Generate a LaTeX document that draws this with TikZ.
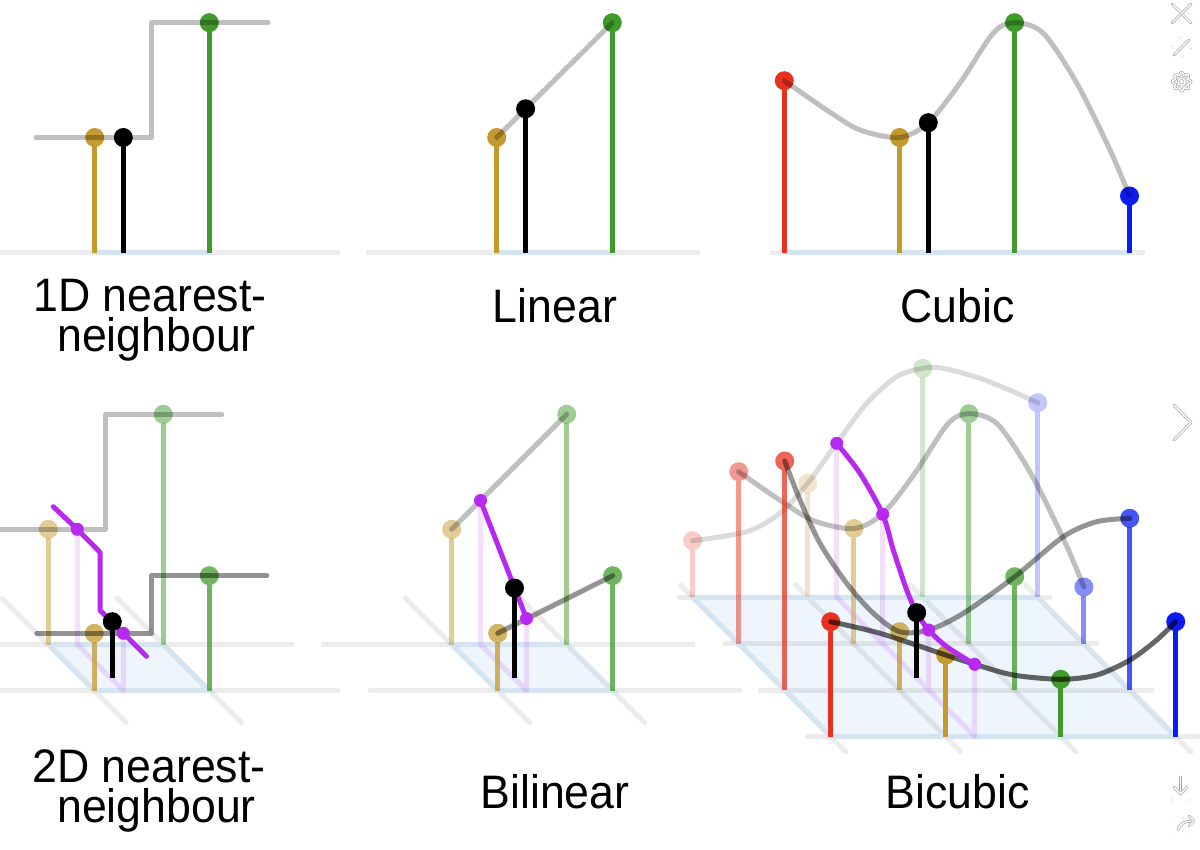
\documentclass[tikz,border=0pt]{standalone}
\usepackage{fontspec}
\newfontfamily\labelfont{Liberation Sans}[FakeStretch=0.95]
\usepackage{xcolor}
\usepackage{tikz}
\definecolor{ptred}{HTML}{E8321F}
\definecolor{ptgold}{HTML}{C4992E}
\definecolor{ptgreen}{HTML}{409A2C}
\definecolor{ptblue}{HTML}{0B1CF2}
\definecolor{ptpurple}{HTML}{B829F0}
\definecolor{gridblue}{HTML}{D4E4F0}
\definecolor{cellfill}{HTML}{EEF5FC}
\definecolor{icongray}{HTML}{A6A6A6}

\begin{document}
\begin{tikzpicture}[x=1pt,y=-1pt,
  gridline/.style={black,opacity=0.075,line width=5pt,line cap=round},
  groundline/.style={gridblue,line width=5pt},
  celledge/.style={gridblue,line width=5pt,line join=round},
  stemline/.style={line width=5pt},
  interp/.style={black,line width=5pt,line cap=round,line join=round},
  paneltitle/.style={font=\labelfont\fontsize{47pt}{40pt}\selectfont,anchor=base,inner sep=0pt,text height=34pt,text depth=10pt},
  firstline/.style={text depth=0pt},
  uiicon/.style={draw=icongray,double=white,double distance=1.4pt,line width=0.7pt,line cap=round,line join=round}]
  \useasboundingbox (0,0) rectangle (1200,850);

  % 1D nearest neighbour
  \draw[gridline] (0,253) -- (338,253);
  \draw[groundline] (94.7,253) -- (209.3,253);
  \foreach \x/\y/\col in {94.7/137.5/ptgold, 209.3/22.7/ptgreen} {
    \draw[\col,stemline] (\x,253) -- (\x,\y+9);
    \fill[\col] (\x,\y) circle[radius=9.5pt];
  }
  \draw[interp,opacity=0.25] (36,137.5) -- (151.7,137.5) -- (151.7,22.7) -- (268,22.7);
  \draw[stemline] (123.3,253) -- (123.3,146.5);
  \fill (123.3,137.5) circle[radius=9.5pt];

  % linear
  \draw[gridline] (368,253) -- (698,253);
  \draw[groundline] (496.7,253) -- (612.3,253);
  \foreach \x/\y/\col in {496.7/137.5/ptgold, 612.3/22.7/ptgreen} {
    \draw[\col,stemline] (\x,253) -- (\x,\y+9);
    \fill[\col] (\x,\y) circle[radius=9.5pt];
  }
  \draw[interp,opacity=0.25] (496.7,137.5) -- (612.3,22.7);
  \draw[stemline] (525.6,253) -- (525.6,117.8);
  \fill (525.6,108.8) circle[radius=9.5pt];

  % cubic
  \draw[gridline] (772,253) -- (1143,253);
  \draw[groundline] (784.3,253) -- (1129.5,253);
  \foreach \x/\y/\col in {784.3/80.7/ptred, 899.5/137.5/ptgold, 1014.5/22.7/ptgreen, 1129.5/196/ptblue} {
    \draw[\col,stemline] (\x,253) -- (\x,\y+9);
    \fill[\col] (\x,\y) circle[radius=9.5pt];
  }
  \draw[interp,opacity=0.25] plot[smooth] coordinates {(784.3,80.7) (826.7,110) (860,130) (899.5,137.5)
    (928.3,122.7) (960,83) (993.3,33) (1014.5,22.7) (1043,33) (1076.7,83) (1110,150) (1129.5,196)};
  \draw[stemline] (928.3,253) -- (928.3,131.7);
  \fill (928.3,122.7) circle[radius=9.5pt];

  % 2D nearest neighbour
  \fill[cellfill] (48.3,644.5) -- (163.3,644.5) -- (209.3,690.5) -- (94.3,690.5) -- cycle;
  \draw[gridline] (0,644.5) -- (292,644.5);
  \draw[gridline] (0,690.5) -- (338,690.5);
  \draw[gridline] (2.3,598.5) -- (126.3,722.5);
  \draw[gridline] (117.3,598.5) -- (241.3,722.5);
  \draw[celledge] (48.3,644.5) -- (163.3,644.5) -- (209.3,690.5) -- (94.3,690.5) -- cycle;
  \draw[ptpurple,opacity=0.15,stemline,line join=round] (77.3,529.3) -- (77.3,644.5) -- (123.3,690.5) -- (123.3,633.3);
  \foreach \x/\y/\col in {48.3/529.3/ptgold, 163.3/414.3/ptgreen} {
    \draw[\col,stemline,opacity=0.5] (\x,644.5) -- (\x,\y+9);
    \fill[\col,opacity=0.5] (\x,\y) circle[radius=9.5pt];
  }
  \draw[interp,opacity=0.25] (0,529.3) -- (105.8,529.3) -- (105.8,414.3) -- (221.7,414.3);
  \foreach \x/\y/\col in {94.3/633.3/ptgold, 209.3/575.7/ptgreen} {
    \draw[\col,stemline,opacity=0.75] (\x,690.5) -- (\x,\y+9);
    \fill[\col,opacity=0.75] (\x,\y) circle[radius=9.5pt];
  }
  \draw[interp,opacity=0.42] (36.8,633.3) -- (151.8,633.3) -- (151.8,575.7) -- (266.8,575.7);
  \draw[interp,ptpurple] (53.3,506.7) -- (77.3,529.3) -- (100,552.3) -- (100,610.3) -- (123.3,633.3) -- (146.5,656.3);
  \fill[ptpurple] (77.3,529.3) circle[radius=6.5pt];
  \fill[ptpurple] (123.3,633.3) circle[radius=6.5pt];
  \draw[stemline] (112.3,678.3) -- (112.3,630.7);
  \fill (112.3,621.7) circle[radius=9.5pt];

  % bilinear
  \fill[cellfill] (451.7,644.5) -- (566.7,644.5) -- (612.7,690.5) -- (497.7,690.5) -- cycle;
  \draw[gridline] (323,644.5) -- (693,644.5);
  \draw[gridline] (370,690.5) -- (740,690.5);
  \draw[gridline] (405.7,598.5) -- (529.7,722.5);
  \draw[gridline] (520.7,598.5) -- (644.7,722.5);
  \draw[celledge] (451.7,644.5) -- (566.7,644.5) -- (612.7,690.5) -- (497.7,690.5) -- cycle;
  \draw[ptpurple,opacity=0.15,stemline,line join=round] (480.5,500.5) -- (480.5,644.5) -- (526.5,690.5) -- (526.5,618.5);
  \foreach \x/\y/\col in {451.7/529.3/ptgold, 566.7/414.3/ptgreen} {
    \draw[\col,stemline,opacity=0.5] (\x,644.5) -- (\x,\y+9);
    \fill[\col,opacity=0.5] (\x,\y) circle[radius=9.5pt];
  }
  \draw[interp,opacity=0.25] (451.7,529.3) -- (566.7,414.3);
  \foreach \x/\y/\col in {497.7/633.3/ptgold, 612.7/575.7/ptgreen} {
    \draw[\col,stemline,opacity=0.75] (\x,690.5) -- (\x,\y+9);
    \fill[\col,opacity=0.75] (\x,\y) circle[radius=9.5pt];
  }
  \draw[interp,opacity=0.42] (497.7,633.3) -- (612.7,575.7);
  \draw[interp,ptpurple] (480.5,500.5) -- (526.5,618.5);
  \fill[ptpurple] (480.5,500.5) circle[radius=6.5pt];
  \fill[ptpurple] (526.5,618.5) circle[radius=6.5pt];
  \draw[stemline] (514.5,678.3) -- (514.5,597);
  \fill (514.5,588) circle[radius=9.5pt];

  % bicubic
  \fill[cellfill] (692.7,597.3) -- (1037.7,597.3) -- (1175.7,736.6) -- (830.7,736.6) -- cycle;
  \draw[gridline] (679,597.3) -- (1050,597.3);
  \draw[gridline] (725,643.9) -- (1097,643.9);
  \draw[gridline] (760,690.3) -- (1152,690.3);
  \draw[gridline] (807,736.6) -- (1200,736.6);
  \foreach \i in {0,1,2,3} {
    \draw[gridline] (680.5+115*\i,585) -- (845.9+115*\i,751.9);
  }
  \draw[celledge] (692.7,597.3) -- (1037.7,597.3) -- (1175.7,736.6) -- (830.7,736.6) -- cycle;
  \draw[ptpurple,opacity=0.15,stemline,line join=round] (836.7,443.3) -- (836.7,597.3) -- (974.7,736.6) -- (974.7,664.3)
    (882.7,514.3) -- (882.7,643.9) (928.7,630) -- (928.7,690.3);
  % row 0
  \foreach \x/\y/\col in {692.7/540.7/ptred, 807.7/483.3/ptgold, 922.7/368.3/ptgreen, 1037.7/402.7/ptblue} {
    \draw[\col,stemline,opacity=0.25] (\x,597.3) -- (\x,\y+9);
    \fill[\col,opacity=0.25] (\x,\y) circle[radius=9.5pt];
  }
  \draw[interp,opacity=0.14] plot[smooth] coordinates {(692.7,540.7) (746.7,531.7) (780,513.3) (807.7,483.3)
    (836.7,443.3) (866.7,403.3) (896.7,376.7) (922.7,368.3) (943.3,368.3) (980,378.3) (1013.3,391.7) (1037.7,402.7)};
  % row 1
  \foreach \x/\y/\col in {738.7/471.7/ptred, 853.9/528.5/ptgold, 968.9/413.7/ptgreen, 1083.9/587/ptblue} {
    \draw[\col,stemline,opacity=0.5] (\x,643.9) -- (\x,\y+9);
    \fill[\col,opacity=0.5] (\x,\y) circle[radius=9.5pt];
  }
  \draw[interp,opacity=0.25,shift={(-45.6,391)}] plot[smooth] coordinates {(784.3,80.7) (826.7,110) (860,130) (899.5,137.5)
    (928.3,122.7) (960,83) (993.3,33) (1014.5,22.7) (1043,33) (1076.7,83) (1110,150) (1129.5,196)};
  % row 2
  \foreach \x/\y/\col in {784.7/461/ptred, 899.7/631.7/ptgold, 1014.7/576.7/ptgreen, 1129.7/518.3/ptblue} {
    \draw[\col,stemline,opacity=0.75] (\x,690.3) -- (\x,\y+9);
    \fill[\col,opacity=0.75] (\x,\y) circle[radius=9.5pt];
  }
  \draw[interp,opacity=0.42] plot[smooth] coordinates {(784.7,461) (800,500) (820,543.3) (846.7,583.3) (873.3,613.3)
    (899.7,631.7) (928.7,630) (963.3,613.3) (1014.7,576.7) (1063.3,536.7) (1096.7,521.7) (1129.7,518.3)};
  % row 3
  \foreach \x/\y/\col in {830.7/621.7/ptred, 945.7/655/ptgold, 1060.7/679.3/ptgreen, 1175.7/621.7/ptblue} {
    \draw[\col,stemline] (\x,736.6) -- (\x,\y+9);
    \fill[\col] (\x,\y) circle[radius=9.5pt];
  }
  \draw[interp,opacity=0.6] plot[smooth] coordinates {(830.7,621.7) (880,633.3) (945.7,655) (974.7,664.3)
    (1013.3,675) (1060.7,679.3) (1096.7,675) (1130,660) (1156.7,640) (1175.7,621.7)};
  % purple column
  \draw[interp,ptpurple] plot[smooth] coordinates {(836.7,443.3) (860,473.3) (882.7,514.3) (893.3,550)
    (906.7,590) (916.7,612.7) (928.7,630) (946.7,646.7) (974.7,664.3)};
  \foreach \x/\y in {836.7/443.3, 882.7/514.3, 928.7/630, 974.7/664.3} {
    \fill[ptpurple] (\x,\y) circle[radius=6.5pt];
  }
  \draw[stemline] (916.7,678.3) -- (916.7,621.7);
  \fill (916.7,612.7) circle[radius=9.5pt];

  % titles
  \node[paneltitle,firstline] (title1d) at (150,312) {1D nearest-};
  \node[paneltitle] (title1dnext) at (156.5,352) {neighbour};
  \node[paneltitle] (titlelinear) at (555,323) {Linear};
  \node[paneltitle] (titlecubic) at (957.5,323) {Cubic};
  \node[paneltitle,firstline] (title2d) at (149,782.5) {2D nearest-};
  \node[paneltitle] (title2dnext) at (156.5,822) {neighbour};
  \node[paneltitle] (titlebilinear) at (555,808) {Bilinear};
  \node[paneltitle] (titlebicubic) at (957.5,808) {Bicubic};

  % viewer icons
  \draw[uiicon] (1172,4) -- (1191,23);
  \draw[uiicon] (1191,4) -- (1172,23);
  \draw[uiicon] (1174,55) -- (1189,40);
  \draw[uiicon] (1172,47) -- (1172,57) -- (1182,57);
  \draw[uiicon] (1181,38) -- (1191,38) -- (1191,48);
  \draw[uiicon] (1181.7,81.7) circle[radius=3.5pt];
  \draw[uiicon] plot[domain=0:360,samples=121] ({1181.7+(8+1.3*cos(8*\x))*cos(\x)},{81.7+(8+1.3*cos(8*\x))*sin(\x)}) -- cycle;
  \draw[uiicon] (1174,405) -- (1191,422.5) -- (1174,440);
  \draw[uiicon] (1180.5,777) -- (1180.5,793);
  \draw[uiicon] (1174,787) -- (1180.5,794) -- (1187,787);
  \draw[uiicon] (1172,800) -- (1189,800);
  \draw[uiicon] (1182,818) -- (1173,818) -- (1173,834) -- (1189,834) -- (1189,827);
  \draw[uiicon] (1178,830) .. controls (1180,823) and (1185,821) .. (1193,821);
  \draw[uiicon] (1189,816) -- (1194,821) -- (1189,826);
\end{tikzpicture}
\end{document}
